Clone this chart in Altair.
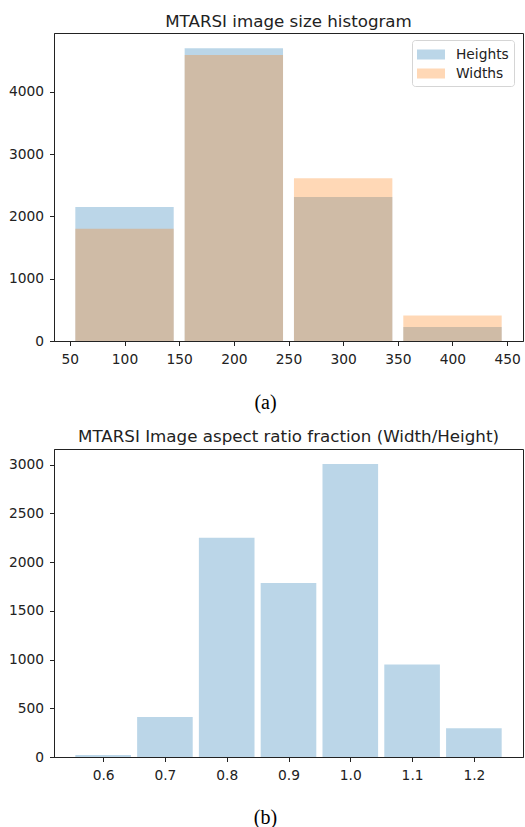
import altair as alt
import pandas as pd

# ---- data ----
size_bin_centers = [100, 200, 300, 400]
size_bin_width = 100
heights_counts = [2150, 4700, 2310, 225]
widths_counts = [1800, 4590, 2610, 410]

ratio_bin_centers = [0.6, 0.7, 0.8, 0.9, 1.0, 1.1, 1.2]
ratio_bin_width = 0.1
ratio_counts = [20, 410, 2250, 1785, 3005, 950, 294]

size_ticks = [50, 100, 150, 200, 250, 300, 350, 400, 450]
size_yticks = [0, 1000, 2000, 3000, 4000]
ratio_ticks = [0.6, 0.7, 0.8, 0.9, 1.0, 1.1, 1.2]
ratio_yticks = [0, 500, 1000, 1500, 2000, 2500, 3000]

rwidth = 0.9

size_df = pd.DataFrame(
    {
        "series": ["Heights"] * len(size_bin_centers) + ["Widths"] * len(size_bin_centers),
        "center": size_bin_centers + size_bin_centers,
        "count": heights_counts + widths_counts,
    }
)
ratio_df = pd.DataFrame({"center": ratio_bin_centers, "count": ratio_counts})

TXT = "#222222"
FONT = "DejaVu Sans"
W, H = 469, 308

# 28 x 10 px swatch when symbolSize = 361 (scale 9.5), left-aligned to the symbol box
legend_path = "M-1,-0.526H1.947V0.526H-1Z"

top = (
    alt.Chart(size_df)
    .transform_calculate(
        x0=f"datum.center - {size_bin_width * rwidth / 2}",
        x1=f"datum.center + {size_bin_width * rwidth / 2}",
        base="0",
    )
    .mark_bar(opacity=0.3)
    .encode(
        x=alt.X(
            "x0:Q",
            scale=alt.Scale(domain=[35.5, 464.5], nice=False, zero=False),
            axis=alt.Axis(
                values=size_ticks,
                format="d",
                title="(a)",
                titleFont="Liberation Serif",
                titleFontSize=20,
                titleFontWeight="normal",
                titleColor="black",
                titleX=211,
                titleY=61,
                titleBaseline="middle",
                labelPadding=7,
            ),
        ),
        x2="x1:Q",
        y=alt.Y(
            "count:Q",
            stack=None,
            scale=alt.Scale(domain=[0, 4943], nice=False),
            axis=alt.Axis(values=size_yticks, format="d", title=None, labelPadding=6),
        ),
        y2="base:Q",
        color=alt.Color(
            "series:N",
            scale=alt.Scale(domain=["Heights", "Widths"], range=["#1f77b4", "#ff7f0e"]),
            legend=alt.Legend(
                title=None,
                orient="none",
                legendX=358,
                legendY=7,
                symbolType=legend_path,
                symbolSize=361,
                symbolOpacity=0.3,
                symbolStrokeWidth=0,
                labelFontSize=13.8,
                labelColor=TXT,
                labelFont=FONT,
                labelOffset=20,
                rowPadding=2,
                padding=5,
                strokeColor="#d5d5d5",
                cornerRadius=3,
                fillColor="white",
            ),
        ),
        order=alt.Order("series:N"),
    )
    .properties(
        width=W,
        height=H,
        title=alt.TitleParams(
            "MTARSI image size histogram",
            fontSize=16.7,
            fontWeight="normal",
            font=FONT,
            color=TXT,
            anchor="middle",
            offset=2,
        ),
    )
)

bottom = (
    alt.Chart(ratio_df)
    .transform_calculate(
        x0=f"datum.center - {ratio_bin_width * rwidth / 2}",
        x1=f"datum.center + {ratio_bin_width * rwidth / 2}",
        base="0",
    )
    .mark_bar(opacity=0.3, color="#1f77b4")
    .encode(
        x=alt.X(
            "x0:Q",
            scale=alt.Scale(domain=[0.5205, 1.2795], nice=False, zero=False),
            axis=alt.Axis(
                values=ratio_ticks,
                format=".1f",
                title="(b)",
                titleFont="Liberation Serif",
                titleFontSize=20,
                titleFontWeight="normal",
                titleColor="black",
                titleX=211,
                titleY=60,
                titleBaseline="middle",
                labelPadding=7,
            ),
        ),
        x2="x1:Q",
        y=alt.Y(
            "count:Q",
            scale=alt.Scale(domain=[0, 3160], nice=False),
            axis=alt.Axis(values=ratio_yticks, format="d", title=None, labelPadding=6),
        ),
        y2="base:Q",
    )
    .properties(
        width=W,
        height=H,
        title=alt.TitleParams(
            "MTARSI Image aspect ratio fraction (Width/Height)",
            fontSize=16.7,
            fontWeight="normal",
            font=FONT,
            color=TXT,
            anchor="middle",
            offset=3,
        ),
    )
)

chart = (
    alt.vconcat(top, bottom, spacing=108, bounds="flush")
    .properties(padding={"left": 7, "top": 13, "right": 0, "bottom": 0}, background="white")
    .configure_view(stroke=TXT, strokeWidth=1)
    .configure_axis(
        labelFont=FONT,
        labelFontSize=13.8,
        labelColor=TXT,
        tickColor=TXT,
        domainColor=TXT,
        tickSize=4.5,
        grid=False,
        domainWidth=1,
        tickWidth=1,
    )
)

chart.save("out.html", embed_options={"renderer": "svg", "actions": False})
